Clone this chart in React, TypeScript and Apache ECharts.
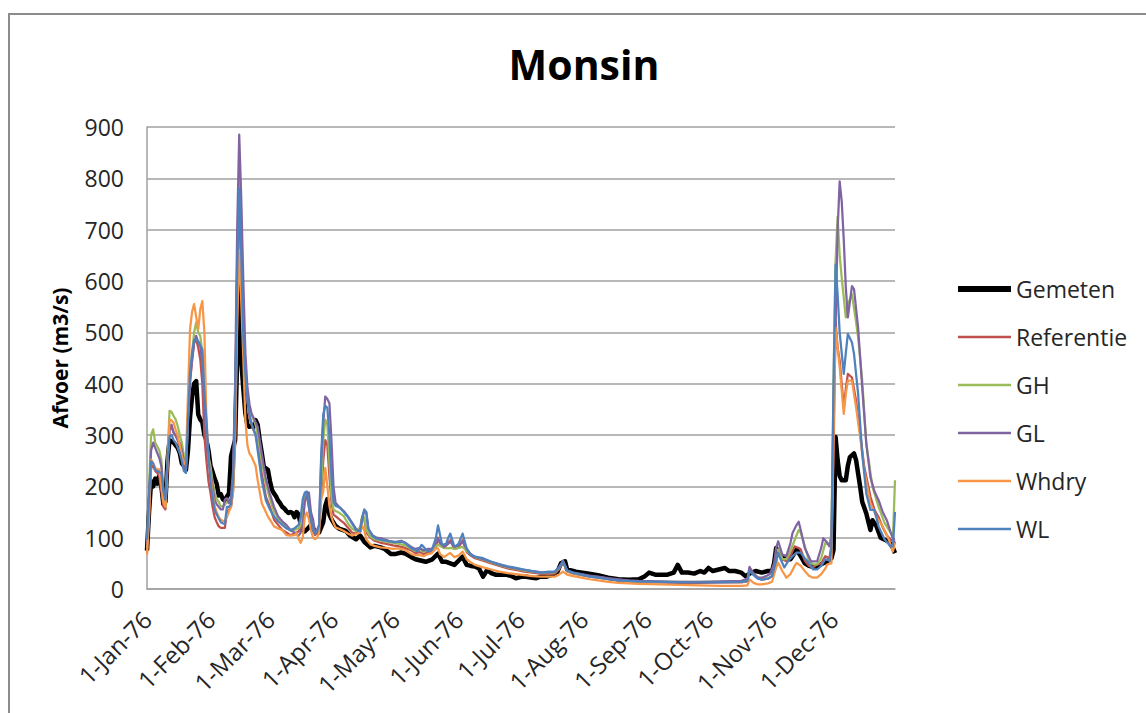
import React, { useEffect, useRef } from "react";
import * as echarts from "echarts";

// Daily discharge at Monsin, 1976. Points are [day of year (0 = 1 Jan), m3/s].
const monthStartDays = [0, 31, 60, 91, 121, 152, 182, 213, 244, 274, 305, 335];
const tickLabels = [
  "1-Jan-76", "1-Feb-76", "1-Mar-76", "1-Apr-76", "1-May-76", "1-Jun-76",
  "1-Jul-76", "1-Aug-76", "1-Sep-76", "1-Oct-76", "1-Nov-76", "1-Dec-76",
];
const yTicks = { min: 0, max: 900, step: 100 };

const gemeten: [number, number][] = [
  [0, 75], [1, 150], [2, 210], [3, 200], [4, 215], [5, 205], [6, 222], [7, 200], [8, 165], [9, 170],
  [10, 250], [11, 290], [13, 285], [14, 280], [15, 275], [16, 265], [17, 245], [18, 240], [19, 232],
  [20, 270], [21, 335], [22, 375], [23, 400], [24, 405], [25, 340], [26, 330], [27, 325], [28, 300],
  [29, 290], [30, 270], [31, 240], [32, 228], [33, 215], [34, 205], [35, 182], [36, 185], [37, 175],
  [38, 172], [39, 180], [40, 186], [41, 258], [42, 275], [43, 290], [44, 450], [45, 600], [46, 445],
  [47, 390], [48, 342], [49, 320], [50, 316], [51, 318], [52, 316], [53, 329], [54, 320], [55, 290],
  [56, 265], [57, 238], [58, 235], [59, 232], [60, 210], [61, 193], [62, 186], [63, 180], [64, 172],
  [65, 167], [66, 160], [67, 157], [68, 152], [69, 148], [70, 150], [71, 148], [72, 140], [73, 150],
  [74, 145], [75, 125], [76, 115], [77, 112], [79, 120], [80, 125], [82, 112], [84, 110], [86, 130],
  [87, 162], [88, 175], [89, 145], [90, 136], [92, 123], [94, 117], [97, 113], [99, 104], [102, 97],
  [104, 104], [106, 92], [109, 81], [111, 84], [114, 81], [116, 78], [119, 68], [121, 68], [124, 71],
  [126, 69], [129, 62], [131, 58], [134, 55], [136, 53], [139, 57], [142, 69], [144, 53], [146, 53],
  [148, 50], [150, 47], [152, 55], [154, 63], [156, 47], [158, 45], [160, 44], [162, 40], [164, 24],
  [166, 37], [168, 31], [170, 28], [172, 28], [175, 28], [178, 25], [180, 21], [183, 24], [185, 24],
  [188, 22], [190, 21], [192, 24], [195, 24], [198, 28], [200, 31], [202, 50], [204, 54], [205, 38],
  [208, 35], [210, 33], [215, 30], [220, 27], [225, 22], [230, 19], [235, 18], [240, 19], [243, 25],
  [245, 32], [248, 28], [251, 28], [254, 28], [257, 32], [259, 47], [261, 32], [264, 32], [267, 30],
  [270, 35], [272, 32], [274, 41], [276, 35], [279, 38], [282, 41], [284, 35], [287, 35], [290, 32],
  [292, 25], [295, 32], [297, 35], [300, 32], [303, 35], [305, 35], [306, 50], [307, 80], [308, 70],
  [310, 61], [312, 58], [314, 58], [316, 70], [317, 77], [319, 64], [321, 50], [323, 45], [326, 42],
  [329, 48], [332, 54], [334, 60], [335, 76], [336, 296], [337, 251], [338, 220], [339, 212], [341, 212],
  [342, 240], [343, 257], [345, 264], [346, 251], [348, 199], [349, 170], [351, 147], [353, 115],
  [354, 134], [356, 122], [358, 100], [360, 96], [362, 92], [364, 80], [365, 70],
];

const referentie: [number, number][] = [
  [0, 70], [1, 140], [2, 235], [3, 240], [4, 230], [5, 226], [6, 220], [7, 190], [8, 160], [9, 155],
  [10, 230], [11, 311], [12, 315], [13, 305], [14, 298], [15, 290], [16, 278], [17, 260], [18, 240],
  [19, 233], [20, 330], [21, 400], [22, 447], [23, 480], [24, 486], [25, 470], [26, 447], [27, 400],
  [28, 298], [29, 250], [30, 210], [31, 187], [32, 160], [33, 140], [34, 130], [35, 122], [36, 119],
  [37, 119], [38, 119], [39, 150], [40, 154], [41, 160], [42, 190], [43, 280], [44, 520], [45, 720],
  [46, 680], [47, 520], [48, 430], [49, 370], [50, 335], [51, 320], [53, 300], [54, 280], [56, 225],
  [58, 180], [60, 160], [62, 135], [64, 125], [66, 115], [68, 110], [70, 105], [72, 108], [74, 112],
  [75, 120], [76, 140], [77, 175], [78, 180], [79, 160], [80, 130], [81, 115], [82, 105], [83, 110],
  [84, 120], [85, 180], [86, 250], [87, 290], [88, 280], [89, 220], [90, 170], [91, 145], [92, 142],
  [94, 135], [96, 129], [98, 120], [100, 110], [102, 108], [104, 115], [105, 140], [106, 136],
  [107, 110], [109, 100], [111, 94], [114, 90], [117, 88], [120, 85], [123, 83], [126, 80], [129, 75],
  [131, 70], [133, 72], [135, 68], [137, 72], [139, 72], [141, 80], [142, 100], [143, 88], [145, 80],
  [147, 90], [148, 95], [150, 78], [152, 80], [154, 95], [156, 72], [158, 65], [160, 60], [164, 55],
  [168, 50], [172, 45], [176, 40], [180, 37], [184, 34], [188, 32], [192, 30], [196, 29], [199, 30],
  [201, 38], [203, 52], [205, 34], [208, 30], [212, 27], [216, 24], [220, 22], [225, 19], [230, 17],
  [235, 15], [240, 14], [250, 13], [260, 12], [270, 12], [280, 13], [290, 13], [293, 15], [294, 38],
  [296, 30], [298, 22], [300, 18], [303, 20], [305, 25], [307, 50], [308, 74], [309, 70], [310, 58],
  [312, 54], [314, 65], [316, 83], [318, 80], [319, 77], [321, 55], [323, 45], [325, 42], [327, 48],
  [329, 50], [331, 64], [333, 60], [334, 85], [335, 260], [336, 522], [337, 470], [338, 445],
  [340, 354], [341, 390], [342, 419], [344, 412], [346, 367], [348, 303], [350, 238], [353, 180],
  [355, 154], [357, 140], [359, 120], [361, 105], [363, 95], [365, 98],
];

const gh: [number, number][] = [
  [0, 80], [1, 200], [2, 300], [3, 311], [4, 285], [5, 278], [6, 270], [7, 252], [8, 190], [9, 161],
  [10, 250], [11, 347], [12, 345], [13, 337], [14, 330], [15, 317], [16, 300], [17, 285], [18, 260],
  [19, 239], [20, 340], [21, 420], [22, 460], [23, 500], [24, 519], [25, 500], [26, 493], [27, 460],
  [28, 376], [29, 300], [30, 260], [31, 239], [32, 210], [33, 187], [34, 175], [35, 170], [36, 161],
  [37, 161], [38, 164], [39, 170], [40, 168], [41, 175], [42, 210], [43, 350], [44, 650], [45, 810],
  [46, 700], [47, 540], [48, 420], [49, 380], [50, 350], [51, 340], [53, 320], [54, 300], [56, 250],
  [58, 205], [60, 175], [62, 150], [64, 138], [66, 128], [68, 120], [70, 113], [72, 115], [74, 118],
  [75, 125], [76, 150], [77, 184], [78, 188], [79, 170], [80, 140], [81, 120], [82, 110], [83, 115],
  [84, 125], [85, 200], [86, 290], [87, 330], [88, 320], [89, 250], [90, 180], [91, 155], [92, 152],
  [94, 148], [96, 142], [98, 128], [100, 118], [102, 113], [104, 120], [105, 142], [106, 140],
  [107, 115], [109, 102], [111, 97], [114, 94], [117, 92], [120, 90], [123, 88], [126, 85], [129, 78],
  [131, 74], [133, 76], [135, 72], [137, 76], [139, 76], [141, 84], [142, 86], [143, 84], [145, 80],
  [147, 79], [148, 80], [150, 78], [152, 80], [154, 82], [156, 74], [158, 68], [160, 62], [164, 57],
  [168, 52], [172, 47], [176, 42], [180, 39], [184, 36], [188, 34], [192, 32], [196, 31], [199, 32],
  [201, 40], [203, 54], [205, 35], [208, 31], [212, 28], [216, 25], [220, 23], [225, 20], [230, 18],
  [235, 16], [240, 15], [250, 14], [260, 14], [270, 14], [280, 14], [290, 14], [293, 16], [294, 40],
  [296, 30], [298, 23], [300, 19], [303, 21], [305, 25], [307, 50], [308, 77], [309, 70], [310, 58],
  [312, 58], [314, 75], [316, 95], [318, 115], [319, 110], [321, 83], [323, 55], [325, 48], [327, 48],
  [329, 60], [331, 90], [333, 85], [334, 110], [335, 400], [336, 639], [337, 725], [338, 650],
  [339, 606], [341, 529], [342, 555], [344, 574], [346, 520], [347, 490], [349, 406], [351, 283],
  [354, 199], [357, 160], [360, 128], [363, 109], [364, 100], [365, 212],
];

const gl: [number, number][] = [
  [0, 85], [1, 180], [2, 270], [3, 285], [4, 275], [5, 265], [6, 255], [7, 239], [8, 190], [9, 174],
  [10, 250], [11, 317], [12, 320], [13, 304], [14, 300], [15, 290], [16, 285], [17, 270], [18, 250],
  [19, 233], [20, 330], [21, 410], [22, 445], [23, 480], [24, 493], [25, 480], [26, 473], [27, 440],
  [28, 356], [29, 290], [30, 250], [31, 226], [32, 200], [33, 174], [34, 165], [35, 160], [36, 155],
  [37, 155], [38, 174], [39, 177], [40, 167], [41, 180], [42, 232], [43, 400], [44, 700], [45, 885],
  [46, 760], [47, 600], [48, 460], [49, 393], [50, 360], [51, 342], [53, 325], [54, 316], [56, 264],
  [58, 215], [60, 185], [62, 160], [64, 141], [66, 132], [68, 125], [70, 115], [72, 110], [74, 104],
  [75, 110], [76, 123], [77, 170], [78, 184], [79, 188], [80, 150], [81, 136], [82, 110], [83, 115],
  [84, 123], [85, 250], [86, 324], [87, 375], [88, 370], [89, 362], [90, 290], [91, 200], [92, 168],
  [94, 159], [96, 152], [98, 142], [100, 130], [102, 117], [104, 110], [105, 135], [106, 152],
  [107, 149], [108, 117], [110, 105], [112, 100], [115, 98], [118, 94], [121, 91], [124, 94], [126, 90],
  [129, 82], [131, 78], [133, 80], [135, 75], [137, 78], [139, 78], [141, 90], [142, 98], [143, 90],
  [145, 82], [147, 88], [148, 92], [150, 82], [152, 85], [154, 92], [156, 78], [158, 68], [160, 63],
  [164, 58], [168, 53], [172, 48], [176, 43], [180, 40], [184, 37], [188, 35], [192, 33], [196, 32],
  [199, 33], [201, 42], [203, 55], [205, 36], [208, 32], [212, 29], [216, 26], [220, 24], [225, 21],
  [230, 19], [235, 17], [240, 16], [250, 15], [260, 14], [270, 14], [280, 15], [290, 16], [293, 20],
  [294, 43], [296, 29], [298, 22], [300, 22], [302, 25], [304, 29], [306, 50], [307, 80], [308, 93],
  [310, 67], [312, 64], [314, 90], [315, 109], [317, 125], [318, 131], [319, 115], [321, 80],
  [322, 71], [324, 54], [327, 54], [329, 80], [330, 99], [332, 90], [333, 83], [334, 100], [335, 350],
  [336, 509], [337, 700], [338, 794], [339, 755], [340, 680], [341, 587], [342, 529], [343, 560],
  [344, 590], [345, 584], [347, 509], [349, 393], [351, 283], [353, 218], [355, 190], [357, 173],
  [359, 150], [361, 134], [363, 109], [365, 89],
];

const whdry: [number, number][] = [
  [0, 67], [1, 140], [2, 252], [3, 245], [4, 236], [5, 233], [6, 233], [7, 200], [8, 168], [9, 160],
  [10, 250], [11, 330], [12, 328], [13, 324], [14, 310], [15, 298], [16, 280], [17, 260], [18, 243],
  [19, 250], [20, 380], [21, 506], [22, 540], [23, 555], [24, 530], [25, 506], [26, 545], [27, 561],
  [28, 500], [29, 330], [30, 260], [31, 220], [32, 185], [33, 161], [34, 150], [35, 140], [36, 135],
  [37, 133], [38, 132], [39, 140], [40, 151], [41, 160], [42, 190], [43, 300], [44, 520], [45, 660],
  [46, 560], [47, 450], [48, 330], [49, 280], [50, 264], [51, 258], [53, 240], [54, 212], [56, 167],
  [58, 150], [59, 141], [60, 135], [62, 122], [64, 118], [66, 115], [68, 105], [70, 104], [72, 105],
  [73, 109], [74, 97], [75, 90], [76, 100], [77, 140], [78, 149], [79, 136], [80, 115], [81, 100],
  [82, 97], [83, 100], [84, 110], [85, 175], [86, 190], [87, 236], [88, 200], [89, 162], [90, 140],
  [91, 129], [92, 120], [94, 117], [96, 113], [98, 108], [100, 104], [102, 107], [104, 110], [105, 123],
  [106, 115], [107, 97], [109, 87], [111, 84], [114, 81], [117, 80], [120, 78], [123, 79], [126, 76],
  [129, 68], [131, 66], [133, 66], [135, 64], [137, 68], [139, 70], [141, 79], [142, 79], [143, 68],
  [145, 62], [147, 68], [148, 70], [150, 62], [152, 65], [154, 73], [156, 58], [158, 52], [160, 47],
  [164, 42], [168, 38], [172, 34], [176, 31], [180, 29], [184, 27], [188, 25], [192, 24], [196, 24],
  [199, 24], [201, 28], [203, 34], [205, 28], [208, 25], [212, 22], [216, 19], [220, 17], [225, 14],
  [230, 12], [235, 11], [240, 10], [250, 9], [260, 8], [270, 7], [280, 6], [290, 6], [293, 7],
  [294, 19], [296, 12], [298, 9], [300, 9], [303, 11], [305, 14], [307, 42], [308, 51], [310, 35],
  [312, 22], [314, 29], [316, 45], [317, 51], [319, 45], [321, 35], [323, 26], [325, 22], [327, 22],
  [329, 29], [331, 40], [332, 48], [334, 50], [335, 300], [336, 509], [337, 470], [338, 432],
  [340, 341], [341, 380], [342, 406], [344, 406], [346, 354], [348, 296], [350, 231], [353, 167],
  [356, 140], [359, 122], [362, 96], [364, 73], [365, 90],
];

const wl: [number, number][] = [
  [0, 96], [1, 180], [2, 249], [3, 245], [4, 232], [5, 230], [6, 228], [7, 226], [8, 190], [9, 174],
  [10, 250], [11, 298], [12, 300], [13, 290], [14, 285], [15, 275], [16, 265], [17, 250], [18, 230],
  [19, 226], [20, 330], [21, 420], [22, 460], [23, 486], [24, 486], [25, 483], [26, 475], [27, 467],
  [28, 380], [29, 330], [30, 260], [31, 207], [32, 180], [33, 155], [34, 145], [35, 138], [36, 130],
  [37, 128], [38, 127], [39, 160], [40, 160], [41, 165], [42, 210], [43, 350], [44, 620], [45, 780],
  [46, 650], [47, 491], [48, 420], [49, 368], [50, 340], [51, 322], [53, 300], [54, 270], [56, 212],
  [58, 173], [60, 155], [62, 141], [64, 132], [66, 125], [68, 118], [70, 115], [72, 118], [74, 125],
  [75, 140], [76, 175], [77, 188], [78, 190], [79, 160], [80, 135], [81, 115], [82, 108], [83, 112],
  [84, 125], [85, 260], [86, 340], [87, 357], [88, 353], [89, 300], [90, 220], [91, 170], [92, 162],
  [94, 159], [96, 150], [98, 140], [100, 128], [102, 115], [104, 112], [105, 140], [106, 155],
  [107, 150], [108, 118], [110, 103], [112, 98], [115, 95], [118, 93], [121, 92], [124, 92], [126, 90],
  [129, 79], [131, 76], [132, 73], [134, 86], [135, 82], [137, 73], [139, 76], [141, 100], [142, 124],
  [143, 105], [144, 86], [146, 88], [147, 100], [148, 108], [150, 82], [152, 88], [154, 108], [156, 79],
  [158, 66], [160, 63], [164, 60], [168, 53], [172, 48], [176, 44], [180, 41], [184, 38], [188, 35],
  [192, 32], [196, 34], [199, 34], [201, 42], [203, 53], [205, 36], [208, 32], [212, 28], [216, 24],
  [220, 22], [225, 19], [230, 17], [235, 16], [240, 15], [250, 14], [260, 13], [270, 13], [280, 13],
  [290, 14], [293, 16], [294, 35], [296, 27], [298, 20], [300, 18], [303, 20], [305, 25], [307, 55],
  [308, 71], [309, 60], [311, 42], [313, 55], [315, 64], [317, 71], [319, 71], [321, 60], [323, 51],
  [325, 38], [327, 38], [329, 45], [331, 58], [333, 55], [334, 80], [335, 400], [336, 632], [337, 574],
  [338, 500], [340, 419], [341, 460], [342, 497], [344, 480], [345, 458], [347, 380], [349, 264],
  [351, 186], [353, 154], [355, 154], [357, 122], [360, 96], [363, 83], [364, 83], [365, 150],
];

const seriesDefs = [
  { name: "Gemeten", data: gemeten, color: "#000000", width: 4.5, keyThickness: 6 },
  { name: "Referentie", data: referentie, color: "#C0504D", width: 2.25, keyThickness: 2.5 },
  { name: "GH", data: gh, color: "#9BBB59", width: 2.25, keyThickness: 2.5 },
  { name: "GL", data: gl, color: "#8064A2", width: 2.25, keyThickness: 2.5 },
  { name: "Whdry", data: whdry, color: "#F79646", width: 2.25, keyThickness: 2.5 },
  { name: "WL", data: wl, color: "#4F81BD", width: 2.25, keyThickness: 2.5 },
];

const FONT = "'Open Sans', 'Noto Sans', sans-serif";
const TEXT = "#262626";
const GRID = "#a0a0a0";
const KEY_W = 53;

// Flat bar used as the legend key, so each key is a plain line segment.
const keyIcon = (t: number) => `path://M0,0H${KEY_W}V${t}H0Z`;

export default function App() {
  const ref = useRef<HTMLDivElement>(null);

  useEffect(() => {
    document.body.style.margin = "0";
    if (!ref.current) return;
    const chart = echarts.init(ref.current, null, { renderer: "svg" });

    chart.setOption({
      animation: false,
      backgroundColor: "#ffffff",
      title: {
        text: "Monsin",
        left: 579,
        top: 38,
        textAlign: "center",
        textStyle: { fontFamily: FONT, fontWeight: "bold", fontSize: 41, color: "#000" },
      },
      graphic: [
        {
          type: "rect",
          shape: { x: 9, y: 14, width: 1200, height: 800 },
          style: { fill: "none", stroke: "#8c8c8c", lineWidth: 2 },
          silent: true,
        },
      ],
      legend: {
        orient: "vertical",
        left: 958,
        top: 277,
        itemWidth: KEY_W,
        itemHeight: 24,
        itemGap: 24,
        padding: 0,
        symbolKeepAspect: true,
        textStyle: { fontFamily: FONT, fontSize: 23, color: TEXT, lineHeight: 24 },
        data: seriesDefs.map((s) => ({ name: s.name, icon: keyIcon(s.keyThickness) })),
      },
      grid: { left: 147, right: 251, top: 127, bottom: 124 },
      xAxis: {
        type: "value",
        min: 0,
        max: 365,
        axisLine: { show: true, lineStyle: { color: GRID, width: 1.5 } },
        axisTick: { show: false },
        splitLine: { show: false },
        axisLabel: {
          customValues: monthStartDays,
          rotate: 45,
          margin: 26,
          fontFamily: FONT,
          fontSize: 24,
          color: TEXT,
          formatter: (v: number) => {
            const i = monthStartDays.indexOf(Math.round(v));
            return i >= 0 ? tickLabels[i] : "";
          },
        },
      },
      yAxis: {
        type: "value",
        name: "Afvoer (m3/s)",
        nameLocation: "middle",
        nameGap: 77,
        nameRotate: 90,
        nameTextStyle: { fontFamily: FONT, fontWeight: "bold", fontSize: 21, color: "#000" },
        min: yTicks.min,
        max: yTicks.max,
        interval: yTicks.step,
        axisLine: { show: true, lineStyle: { color: GRID, width: 1.5 } },
        axisTick: { show: false },
        splitLine: { show: true, lineStyle: { color: GRID, width: 1.5 } },
        axisLabel: { margin: 23, fontFamily: FONT, fontSize: 23, color: TEXT },
      },
      series: seriesDefs.map((s) => ({
        name: s.name,
        type: "line",
        data: s.data,
        symbol: "none",
        showSymbol: false,
        smooth: false,
        color: s.color,
        lineStyle: { color: s.color, width: s.width, join: "round" },
        z: 2,
      })),
    });

    return () => chart.dispose();
  }, []);

  return <div ref={ref} style={{ width: 1146, height: 713 }} />;
}
